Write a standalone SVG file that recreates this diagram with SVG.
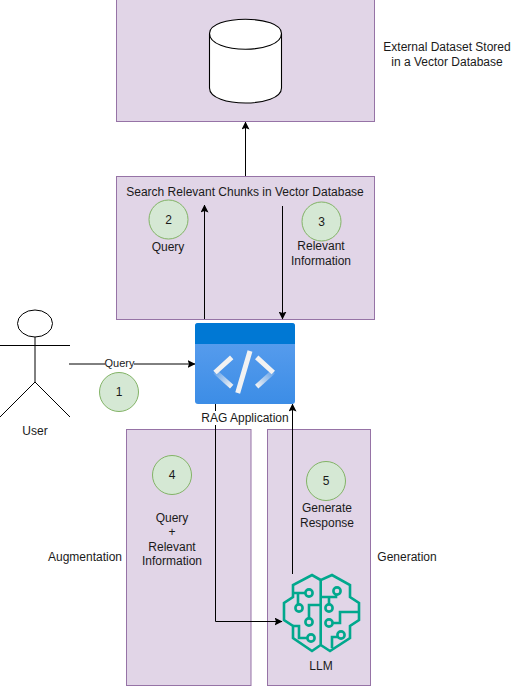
<svg xmlns="http://www.w3.org/2000/svg" width="516" height="687" viewBox="0 0 516 687">
<style>
text{font-family:"Liberation Sans",Arial,sans-serif;font-size:12px;fill:#1a1a1a;text-anchor:middle}
.box{fill:#e1d5e7;stroke:#9673a6;stroke-width:1}
.c{fill:#d5e8d4;stroke:#82b366;stroke-width:1}
.l{fill:none;stroke:#000;stroke-width:1;marker-end:url(#a)}
.s{fill:none;stroke:#000;stroke-width:1}
.b{fill:none;stroke:#01a88d;stroke-width:2.600;stroke-linejoin:miter}
.w{fill:none;stroke:#f2f2f2;stroke-width:5}
</style>
<defs>
<marker id="a" viewBox="0 0 8 8" refX="7.500" refY="4" markerWidth="8" markerHeight="8" orient="auto" markerUnits="userSpaceOnUse"><path d="M0 0L8 4L0 8L1.500 4Z" fill="#000"/></marker>
<linearGradient id="g" x1="0" y1="0" x2="0" y2="1"><stop offset="0" stop-color="#5ea0ef"/><stop offset="1" stop-color="#3c8de6"/></linearGradient>
<linearGradient id="f1" gradientUnits="userSpaceOnUse" x1="231.700" y1="386.700" x2="215" y2="371.700"><stop offset="0" stop-color="#f2f2f2"/><stop offset="1" stop-color="#f2f2f2" stop-opacity=".15"/></linearGradient>
<linearGradient id="f2" gradientUnits="userSpaceOnUse" x1="256.700" y1="386.700" x2="273.300" y2="371.700"><stop offset="0" stop-color="#f2f2f2"/><stop offset="1" stop-color="#f2f2f2" stop-opacity=".15"/></linearGradient>
</defs>
<g id="db-box"><rect class="box" x="116.500" y="-0.500" width="258" height="122"/></g>
<g id="search-box"><rect class="box" x="116.500" y="176.500" width="258" height="143"/><text x="245" y="196">Search Relevant Chunks in Vector Database</text></g>
<g id="aug-box"><rect class="box" x="126.500" y="429.500" width="124.500" height="256"/></g>
<g id="gen-box"><rect class="box" x="267.500" y="429.500" width="103" height="256"/></g>
<g id="connectors">
<path class="l" d="M245.500 176V122"/>
<path class="l" d="M204.500 319V205"/>
<path class="l" d="M282.500 206V319"/>
<path class="l" d="M69 364H195"/>
<path class="s" d="M215.500 404V621.500"/><path class="l" d="M215.500 621.500H282"/>
<path class="l" d="M292.500 574V404"/>
</g>
<g id="database"><path d="M209.500 33.500C209.500 14.500 281.500 14.500 281.500 33.500V88C281.500 108 209.500 108 209.500 88Z" fill="#fff" stroke="#000" stroke-width="1.100"/><path d="M209.500 33.500C209.500 54.500 281.500 54.500 281.500 33.500" fill="none" stroke="#000" stroke-width="1.100"/></g>
<g id="db-label"><text x="447" y="51">External Dataset Stored</text><text x="447" y="66">in a Vector Database</text></g>
<g id="step2"><circle class="c" cx="168.500" cy="219.500" r="19.500"/><text x="168.500" y="224">2</text><text x="168" y="251">Query</text></g>
<g id="step3"><circle class="c" cx="321.500" cy="221.500" r="19.500"/><text x="321.500" y="226">3</text><text x="321" y="250">Relevant</text><text x="321" y="265">Information</text></g>
<g id="user"><ellipse cx="35" cy="323.500" rx="17.500" ry="13.500" fill="#fff" stroke="#000"/><path class="s" d="M35 337V382M0 345.500H70M35 382L0 417M35 382L70 417"/><text x="35" y="435">User</text></g>
<g id="query-label"><rect x="105" y="358" width="29" height="12" fill="#fff"/><text x="119.500" y="367" style="font-size:11px">Query</text></g>
<g id="step1"><circle class="c" cx="119" cy="392" r="19.500"/><text x="119" y="396">1</text></g>
<g id="rag"><rect x="195" y="323" width="100" height="81" rx="3" fill="url(#g)"/><path d="M195 344V326a3 3 0 0 1 3-3H292a3 3 0 0 1 3 3V344Z" fill="#0078d4"/>
<path d="M215 371.700L231.700 386.700" stroke="url(#f1)" stroke-width="5" fill="none"/><path d="M273.300 371.700L256.700 386.700" stroke="url(#f2)" stroke-width="5" fill="none"/>
<path class="w" d="M231.700 357.300L215 372.500M256.700 357.300L273.300 372.500M250 351L237.700 393"/></g>
<g id="rag-label"><rect x="201" y="411" width="88" height="14" fill="#fff"/><text x="245" y="422">RAG Application</text></g>
<g id="step4"><circle class="c" cx="172" cy="475" r="19.500"/><text x="172" y="479">4</text><text x="172" y="522">Query</text><text x="172" y="536">+</text><text x="172" y="551">Relevant</text><text x="172" y="565">Information</text></g>
<g id="aug-label"><text x="85" y="561">Augmentation</text></g>
<g id="step5"><circle class="c" cx="326" cy="481" r="19.500"/><text x="326" y="485">5</text><text x="327" y="512">Generate</text><text x="327" y="527">Response</text></g>
<g id="gen-label"><text x="407" y="561">Generation</text></g>
<g id="llm">
<path class="b" d="M320.700 580L312 575L293 585V597L284 603V620L293 626V638L312 651L320.700 645L330 651L350 638V626L359 620V603L350 597V585L332 575L320.700 580V645"/>
<circle class="b" cx="309" cy="593" r="3.600"/><path class="b" d="M293 593H305.400M298 593V604.400"/><circle class="b" cx="299" cy="608" r="3.600"/>
<circle class="b" cx="309" cy="622" r="3.600"/><path class="b" d="M309 618.400V605H320.700"/>
<circle class="b" cx="311" cy="638" r="3.600"/><path class="b" d="M307.400 638H299V626H293"/>
<circle class="b" cx="337" cy="591" r="3.600"/><path class="b" d="M336 594.600V597H320.700M329 597V604.400"/><circle class="b" cx="329" cy="608" r="3.600"/>
<circle class="b" cx="329" cy="623" r="3.600"/><path class="b" d="M332.600 623H340V612H359"/>
<circle class="b" cx="341" cy="635" r="3.600"/><path class="b" d="M337.500 637H332V648"/>
<text x="321" y="670">LLM</text></g>
</svg>
